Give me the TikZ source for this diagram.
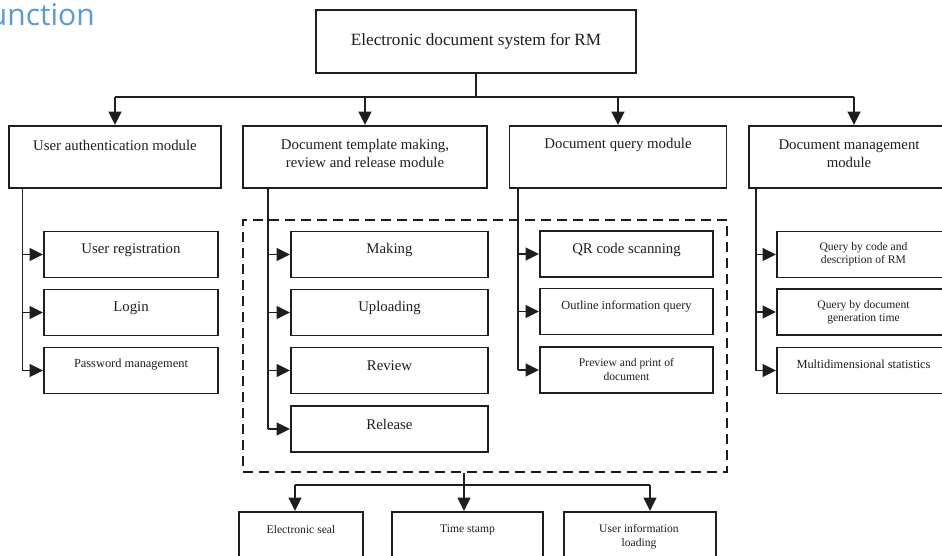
\documentclass[tikz,border=0pt]{standalone}
\usepackage{fontspec}
\setmainfont{Liberation Serif}
\newfontfamily\blfont{Open Sans}
\usetikzlibrary{arrows.meta}
\definecolor{ink}{HTML}{1E1E1E}
\definecolor{ttlblue}{HTML}{5B9BD5}
\tikzset{
  box/.style={draw=ink, line width=1.45pt, inner sep=0pt, rectangle},
  conn/.style={draw=ink, line width=1.25pt},
  arr/.style={conn, -{Triangle[length=10pt,width=9.5pt]}},
  big/.style={font=\fontsize{12.9}{15}\selectfont, text=ink},
  mid/.style={font=\fontsize{11.1}{13.2}\selectfont, text=ink, align=center},
  sml/.style={font=\fontsize{9.3}{10.5}\selectfont, text=ink, align=center},
  tiny/.style={font=\fontsize{8.7}{10}\selectfont, text=ink, align=center},
}
\begin{document}
\begin{tikzpicture}[x=0.75pt, y=-0.75pt]
\useasboundingbox (0,0) rectangle (942,556);
% title fragment
\node[anchor=base east, inner sep=0pt, text=ttlblue, font=\blfont\fontsize{22.5}{26}\selectfont] (ttl) at (95,26) {unction};
% root
\node[box, minimum width=320*0.75pt, minimum height=63*0.75pt] (root) at (476,41.5) {};
\node[big] (rootT) at (476,41) {Electronic document system for RM};
% level 1
\node[box, minimum width=212*0.75pt, minimum height=62*0.75pt] (A) at (115,157) {};
\node[box, minimum width=244*0.75pt, minimum height=62*0.75pt] (B) at (365,157) {};
\node[box, minimum width=217*0.75pt, minimum height=62*0.75pt] (C) at (618,157) {};
\node[box, minimum width=200*0.75pt, minimum height=62*0.75pt] (D) at (849,157) {};
\node[mid] (AT) at (115,145) {User authentication module};
\node[mid] (BT) at (365,153.5) {Document template making,\\review and release module};
\node[mid] (CT) at (618,145) {Document query module};
\node[mid] (DT) at (849,153.5) {Document management\\module};
% bus
\coordinate (busA) at (115,97);
\coordinate (busB) at (365,97);
\coordinate (busC) at (618,97);
\coordinate (busD) at (854,97);
\coordinate (busM) at (476,97);
\draw[conn] (root.south) -- (busM);
\draw[conn] (busA) -- (busD);
\draw[arr] (busA) -- (A.north);
\draw[arr] (busB) -- (B.north);
\draw[arr] (busC) -- (C.north);
\draw[arr] (busD) -- (busD |- D.north);
% dashed frame
\node[draw=ink, line width=1.4pt, dash pattern=on 7.5pt off 4.5pt, minimum width=484*0.75pt, minimum height=252*0.75pt, inner sep=0pt] (frame) at (485,346) {};
% children A
\node[box, minimum width=174*0.75pt, minimum height=46*0.75pt] (A1) at (131,254.5) {};
\node[box, minimum width=174*0.75pt, minimum height=46*0.75pt] (A2) at (131,312.5) {};
\node[box, minimum width=174*0.75pt, minimum height=46*0.75pt] (A3) at (131,370.5) {};
\node[mid] (A1T) at (131,250) {User registration};
\node[mid] (A2T) at (131,308) {Login};
\node[sml] (A3T) at (131,364.5) {Password management};
\coordinate (Av1) at (22.5,254.5);
\coordinate (Av2) at (22.5,312.5);
\coordinate (Av3) at (22.5,370.5);
\draw[conn] (A.south -| Av1) -- (Av3);
\draw[arr] (Av1) -- (A1.west);
\draw[arr] (Av2) -- (A2.west);
\draw[arr] (Av3) -- (A3.west);
% children B
\node[box, minimum width=197*0.75pt, minimum height=46*0.75pt] (B1) at (389.5,254.5) {};
\node[box, minimum width=197*0.75pt, minimum height=46*0.75pt] (B2) at (389.5,312.5) {};
\node[box, minimum width=197*0.75pt, minimum height=46*0.75pt] (B3) at (389.5,370.5) {};
\node[box, minimum width=197*0.75pt, minimum height=46*0.75pt] (B4) at (389.5,429) {};
\node[mid] (B1T) at (389.5,250) {Making};
\node[mid] (B2T) at (389.5,308) {Uploading};
\node[mid] (B3T) at (389.5,366) {Review};
\node[mid] (B4T) at (389.5,424.5) {Release};
\coordinate (Bv1) at (268,254.5);
\coordinate (Bv2) at (268,312.5);
\coordinate (Bv3) at (268,370.5);
\coordinate (Bv4) at (268,429);
\draw[conn] (B.south -| Bv1) -- (Bv4);
\draw[arr] (Bv1) -- (B1.west);
\draw[arr] (Bv2) -- (B2.west);
\draw[arr] (Bv3) -- (B3.west);
\draw[arr] (Bv4) -- (B4.west);
% children C
\node[box, minimum width=173*0.75pt, minimum height=46*0.75pt] (C1) at (626.5,254) {};
\node[box, minimum width=173*0.75pt, minimum height=46*0.75pt] (C2) at (626.5,311.5) {};
\node[box, minimum width=173*0.75pt, minimum height=46*0.75pt] (C3) at (626.5,370) {};
\node[mid] (C1T) at (626.5,249.5) {QR code scanning};
\node[sml] (C2T) at (626.5,306) {Outline information query};
\node[tiny] (C3T) at (626.5,369.5) {Preview and print of\\document};
\coordinate (Cv1) at (518,254);
\coordinate (Cv2) at (518,311.5);
\coordinate (Cv3) at (518,370);
\draw[conn] (C.south -| Cv1) -- (Cv3);
\draw[arr] (Cv1) -- (C1.west);
\draw[arr] (Cv2) -- (C2.west);
\draw[arr] (Cv3) -- (C3.west);
% children D
\node[box, minimum width=173*0.75pt, minimum height=46*0.75pt] (D1) at (863.5,254.5) {};
\node[box, minimum width=173*0.75pt, minimum height=46*0.75pt] (D2) at (863.5,312) {};
\node[box, minimum width=173*0.75pt, minimum height=46*0.75pt] (D3) at (863.5,370.5) {};
\node[tiny] (D1T) at (863.5,254.5) {Query by code and\\description of RM};
\node[tiny] (D2T) at (863.5,312) {Query by document\\generation time};
\node[sml] (D3T) at (863.5,364.5) {Multidimensional statistics};
\coordinate (Dv1) at (756,254.5);
\coordinate (Dv2) at (756,312);
\coordinate (Dv3) at (756,370.5);
\draw[conn] (D.south -| Dv1) -- (Dv3);
\draw[arr] (Dv1) -- (D1.west);
\draw[arr] (Dv2) -- (D2.west);
\draw[arr] (Dv3) -- (D3.west);
% bottom
\node[box, minimum width=124*0.75pt, minimum height=60*0.75pt] (E1) at (301,542) {};
\node[box, minimum width=151*0.75pt, minimum height=60*0.75pt] (E2) at (467.5,542) {};
\node[box, minimum width=152*0.75pt, minimum height=60*0.75pt] (E3) at (640,542) {};
\node[tiny] (E1T) at (301,530) {Electronic seal};
\node[tiny] (E2T) at (467.5,530) {Time stamp};
\node[tiny] (E3T) at (639,536.5) {User information\\loading};
\coordinate (ebM) at (464,485);
\coordinate (ebL) at (295,485);
\coordinate (ebR) at (650,485);
\draw[conn] (ebL) -- (ebR);
\draw[arr] (frame.south -| ebM) -- (ebM |- E2.north);
\draw[arr] (ebL) -- (ebL |- E1.north);
\draw[arr] (ebR) -- (ebR |- E3.north);
\end{tikzpicture}
\end{document}
